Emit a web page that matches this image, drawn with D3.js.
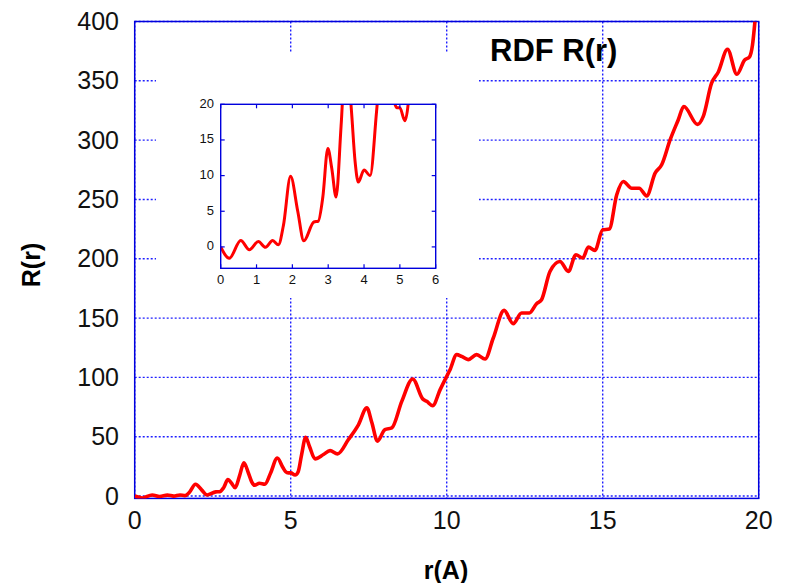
<!DOCTYPE html>
<html>
<head>
<meta charset="utf-8">
<script src="https://cdn.jsdelivr.net/npm/d3@7"></script>
<style>
  html, body { margin: 0; padding: 0; background: #fff; }
  svg { display: block; font-family: "Liberation Sans", Arial, sans-serif; }
</style>
</head>
<body>
<svg id="chart" width="786" height="583"></svg>
<script>
// Radial distribution R(r) sampled along r (Å)
const rValues = [
  0, 0.24, 0.56, 0.8, 1.05, 1.25, 1.45, 1.61, 1.75, 1.95, 2.15, 2.32, 2.6, 2.72, 2.85,
  2.99, 3.1, 3.22, 3.36, 3.5, 3.65, 3.75, 3.84, 4.0, 4.17, 4.35, 4.57, 4.75, 4.84, 4.92,
  5.0, 5.14, 5.24, 5.35, 5.48, 5.6, 5.78, 6.05, 6.26, 6.5, 6.85, 7.17, 7.44, 7.6, 7.78,
  8.02, 8.24, 8.56, 8.91, 9.23, 9.36, 9.55, 9.79, 10.0, 10.1, 10.32, 10.48, 10.69, 10.96,
  11.23, 11.49, 11.84, 12.13, 12.4, 12.65, 12.88, 13.04, 13.31, 13.63, 13.9, 14.14, 14.36,
  14.54, 14.75, 15.0, 15.21, 15.45, 15.66, 15.93, 16.17, 16.41, 16.68, 16.89, 17.16, 17.42,
  17.6, 18.04, 18.22, 18.49, 18.71, 19.0, 19.3, 19.55, 19.7, 19.8, 19.88
];
const rdfValues = [
  0, -1.6, 0.9, -0.4, 0.75, -0.05, 0.9, 0.3, 3, 9.9, 5, 0.85, 3.5, 3.6, 7,
  13.8, 11, 7.0, 17, 28, 19, 12, 9.1, 10.8, 10.0, 19, 32, 24, 20.5, 19.5,
  19.5, 17.7, 20.5, 35, 49.5, 42, 31.3, 35, 38.3, 35.5, 47.6, 60, 74.3, 62, 46.2,
  56, 57.4, 79.8, 98.7, 81.9, 79.8, 76.2, 89.7, 100.9, 106, 119.2, 117.7, 115, 119.2,
  115.5, 133, 156.5, 145.3, 154.3, 154.3, 162.1, 165.5, 189.3, 197.7, 189.3, 203.4, 200.6,
  209.8, 207, 224.4, 225, 253.9, 265.1, 259.5, 259.5, 253, 272.2, 279.2, 300.2, 317,
  328.3, 313.3, 319.8, 348, 357.7, 376.6, 355.5, 367.6, 370, 380, 400
];
const mainXTicks = [0, 5, 10, 15, 20];
const mainYTicks = [0, 50, 100, 150, 200, 250, 300, 350, 400];
const insetXTicks = [0, 1, 2, 3, 4, 5, 6];
const insetYTicks = [0, 5, 10, 15, 20];

const points = rValues.map((r, i) => ({ r, v: rdfValues[i] }));

const svg = d3.select("#chart");
const blue = "#0000dd";
const gridBlue = "#1f1fff";

// ---------- main panel ----------
const x = d3.scaleLinear().domain([0, 20]).range([134.7, 758.7]);
const y = d3.scaleLinear().domain([-2, 400]).range([498.4, 21.5]);

const main = svg.append("g");

// dotted grid
main.append("g").selectAll("line").data(mainXTicks).join("line")
  .attr("x1", d => x(d)).attr("x2", d => x(d))
  .attr("y1", y(400)).attr("y2", y(-2))
  .attr("stroke", gridBlue).attr("stroke-width", 1.4).attr("stroke-dasharray", "2,2");
main.append("g").selectAll("line").data(mainYTicks).join("line")
  .attr("x1", x(0)).attr("x2", x(20))
  .attr("y1", d => y(d)).attr("y2", d => y(d))
  .attr("stroke", gridBlue).attr("stroke-width", 1.4).attr("stroke-dasharray", "2,2");

// white backing behind the inset panel
main.append("rect")
  .attr("x", 156).attr("y", 53).attr("width", 323).attr("height", 245)
  .attr("fill", "#fff");

// frame
main.append("rect")
  .attr("x", x(0)).attr("y", y(400))
  .attr("width", x(20) - x(0)).attr("height", y(-2) - y(400))
  .attr("fill", "none").attr("stroke", blue).attr("stroke-width", 1.5);

// tick labels
main.append("g").selectAll("text").data(mainYTicks).join("text")
  .attr("x", 119).attr("y", d => y(d) + 2)
  .attr("text-anchor", "end").attr("dominant-baseline", "middle")
  .attr("font-size", 25).attr("fill", "#111")
  .text(d => d);
main.append("g").selectAll("text").data(mainXTicks).join("text")
  .attr("x", d => x(d)).attr("y", 529)
  .attr("text-anchor", "middle")
  .attr("font-size", 25).attr("fill", "#111")
  .text(d => d);

// axis titles
svg.append("text")
  .attr("x", 446).attr("y", 579)
  .attr("text-anchor", "middle").attr("font-size", 25).attr("font-weight", "bold")
  .text("r(A)");
svg.append("text")
  .attr("transform", "translate(40,265) rotate(-90)")
  .attr("text-anchor", "middle").attr("font-size", 25).attr("font-weight", "bold")
  .text("R(r)");
svg.append("text")
  .attr("x", 490).attr("y", 61)
  .attr("font-size", 31).attr("font-weight", "bold")
  .text("RDF R(r)");

// curve
main.append("defs").append("clipPath").attr("id", "mainClip")
  .append("rect").attr("x", x(0)).attr("y", y(400))
  .attr("width", x(20) - x(0)).attr("height", y(-2) - y(400));

const mainLine = d3.line().x(d => x(d.r)).y(d => y(d.v)).curve(d3.curveMonotoneX);
main.append("path").datum(points)
  .attr("clip-path", "url(#mainClip)")
  .attr("d", mainLine)
  .attr("fill", "none").attr("stroke", "#ff0000").attr("stroke-width", 3.6)
  .attr("stroke-linejoin", "round");

// ---------- inset panel ----------
const xi = d3.scaleLinear().domain([0, 6]).range([220.7, 435.7]);
const yi = d3.scaleLinear().domain([-3, 20]).range([268.3, 104.3]);

const inset = svg.append("g");
inset.append("defs").append("clipPath").attr("id", "insetClip")
  .append("rect").attr("x", xi(0)).attr("y", yi(20))
  .attr("width", xi(6) - xi(0)).attr("height", yi(-3) - yi(20));

const insetLine = d3.line().x(d => xi(d.r)).y(d => yi(d.v)).curve(d3.curveMonotoneX);
inset.append("path").datum(points.filter(d => d.r <= 6))
  .attr("clip-path", "url(#insetClip)")
  .attr("d", insetLine)
  .attr("fill", "none").attr("stroke", "#ff0000").attr("stroke-width", 3)
  .attr("stroke-linejoin", "round");

inset.append("rect")
  .attr("x", xi(0)).attr("y", yi(20))
  .attr("width", xi(6) - xi(0)).attr("height", yi(-3) - yi(20))
  .attr("fill", "none").attr("stroke", blue).attr("stroke-width", 1.4);

// inward ticks on all four sides
const tk = 4;
inset.append("g").selectAll("line").data(insetXTicks).join("line")
  .attr("x1", d => xi(d)).attr("x2", d => xi(d))
  .attr("y1", yi(-3)).attr("y2", yi(-3) - tk)
  .attr("stroke", blue).attr("stroke-width", 1.2);
inset.append("g").selectAll("line").data(insetXTicks).join("line")
  .attr("x1", d => xi(d)).attr("x2", d => xi(d))
  .attr("y1", yi(20)).attr("y2", yi(20) + tk)
  .attr("stroke", blue).attr("stroke-width", 1.2);
inset.append("g").selectAll("line").data(insetYTicks).join("line")
  .attr("x1", xi(0)).attr("x2", xi(0) + tk)
  .attr("y1", d => yi(d)).attr("y2", d => yi(d))
  .attr("stroke", blue).attr("stroke-width", 1.2);
inset.append("g").selectAll("line").data(insetYTicks).join("line")
  .attr("x1", xi(6)).attr("x2", xi(6) - tk)
  .attr("y1", d => yi(d)).attr("y2", d => yi(d))
  .attr("stroke", blue).attr("stroke-width", 1.2);

inset.append("g").selectAll("text").data(insetYTicks).join("text")
  .attr("x", 214).attr("y", d => yi(d))
  .attr("text-anchor", "end").attr("dominant-baseline", "middle")
  .attr("font-size", 13).attr("fill", "#111")
  .text(d => d);
inset.append("g").selectAll("text").data(insetXTicks).join("text")
  .attr("x", d => xi(d)).attr("y", 284)
  .attr("text-anchor", "middle")
  .attr("font-size", 13).attr("fill", "#111")
  .text(d => d);
</script>
</body>
</html>
